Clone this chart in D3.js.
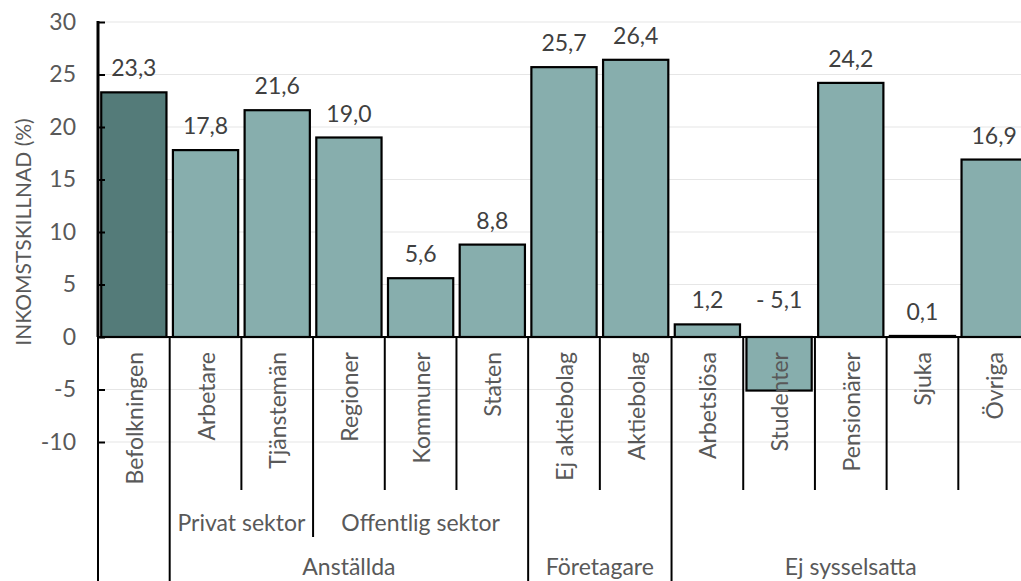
<!DOCTYPE html>
<html>
<head>
<meta charset="utf-8">
<script src="https://cdn.jsdelivr.net/npm/d3@7.9.0/dist/d3.min.js"></script>
<style>
  body { margin: 0; background: #fff; }
  svg { font-family: Lato, "Open Sans", sans-serif; }
</style>
</head>
<body>
<svg width="1021" height="581"></svg>
<script>
// data
const categories = ['Befolkningen', 'Arbetare', 'Tjänstemän', 'Regioner', 'Kommuner', 'Staten',
  'Ej aktiebolag', 'Aktiebolag', 'Arbetslösa', 'Studenter', 'Pensionärer', 'Sjuka', 'Övriga'];
const values = [23.3, 17.8, 21.6, 19.0, 5.6, 8.8, 25.7, 26.4, 1.2, -5.1, 24.2, 0.1, 16.9];
const valueLabels = ['23,3', '17,8', '21,6', '19,0', '5,6', '8,8', '25,7', '26,4', '1,2', '- 5,1', '24,2', '0,1', '16,9'];
const yTicks = [-10, -5, 0, 5, 10, 15, 20, 25, 30];
// sub groups (index of first and last category)
const subGroups = [
  { label: 'Privat sektor', from: 1, to: 2 },
  { label: 'Offentlig sektor', from: 3, to: 5 }
];
const mainGroups = [
  { label: 'Anställda', from: 1, to: 5 },
  { label: 'Företagare', from: 6, to: 7 },
  { label: 'Ej sysselsatta', from: 8, to: 12 }
];

const svg = d3.select('svg');
const left = 98, right = 1030;
const pad = 0.09;
const fs = 23;

let x = d3.scaleBand().domain(categories).range([left, right])
  .paddingInner(pad).paddingOuter(pad / 2);
let y = d3.scaleLinear().domain([-10, 30]).range([442, 22]);
const step = x.step();
const edge = i => left + i * step;

// gridlines
svg.append('g').selectAll('line').data(yTicks).join('line')
  .attr('x1', left).attr('x2', right)
  .attr('y1', d => y(d)).attr('y2', d => y(d))
  .attr('stroke', '#e6e6e6').attr('stroke-width', 1.2);

// bars
svg.append('g').selectAll('rect').data(values).join('rect')
  .attr('x', (d, i) => x(categories[i]))
  .attr('width', x.bandwidth())
  .attr('y', d => y(Math.max(0, d)))
  .attr('height', d => Math.abs(y(d) - y(0)))
  .attr('fill', (d, i) => i === 0 ? '#547b79' : '#87aead')
  .attr('stroke', '#000').attr('stroke-width', 2.2);

// value labels
svg.append('g').selectAll('text').data(values).join('text')
  .attr('x', (d, i) => x(categories[i]) + x.bandwidth() / 2)
  .attr('y', (d, i) => d < 0 ? y(1.2) - 16 : y(d) - 16)
  .attr('text-anchor', 'middle')
  .attr('font-size', fs).attr('fill', '#404040')
  .text((d, i) => valueLabels[i]);

// y axis
let yAxis = d3.axisLeft(y).tickValues(yTicks).tickSize(-7).tickPadding(22).tickFormat(d => d);
let ga = svg.append('g').attr('transform', `translate(${left},0)`).call(yAxis);
ga.select('.domain').remove();
ga.selectAll('.tick line').attr('stroke', '#000').attr('stroke-width', 2);
ga.selectAll('.tick text').attr('font-size', fs).attr('fill', '#595959')
  .attr('font-family', 'Lato, sans-serif');
svg.append('line').attr('x1', left).attr('x2', left).attr('y1', y(30) - 1).attr('y2', y(0))
  .attr('stroke', '#000').attr('stroke-width', 3);

// y title
svg.append('text')
  .attr('transform', `translate(22,${(y(30) + y(-10)) / 2}) rotate(-90)`)
  .attr('text-anchor', 'middle').attr('dominant-baseline', 'central')
  .attr('font-size', 21).attr('fill', '#595959')
  .text('INKOMSTSKILLNAD (%)');

// category axis: zero line
svg.append('line').attr('x1', left).attr('x2', right).attr('y1', y(0)).attr('y2', y(0))
  .attr('stroke', '#000').attr('stroke-width', 2);

// separator lines
const mainEdges = new Set([0, 1]);
mainGroups.forEach(g => { mainEdges.add(g.from); mainEdges.add(g.to + 1); });
const subEdges = new Set();
subGroups.forEach(g => { subEdges.add(g.from); subEdges.add(g.to + 1); });
const edges = d3.range(categories.length + 1);
svg.append('g').selectAll('line').data(edges).join('line')
  .attr('x1', i => edge(i)).attr('x2', i => edge(i))
  .attr('y1', y(0))
  .attr('y2', i => mainEdges.has(i) ? 581 : subEdges.has(i) ? 537 : 490)
  .attr('stroke', '#000').attr('stroke-width', 2);

// category labels
svg.append('g').selectAll('text').data(categories).join('text')
  .attr('transform', d => `translate(${x(d) + x.bandwidth() / 2},${y(0) + 15}) rotate(-90)`)
  .attr('text-anchor', 'end').attr('dominant-baseline', 'central')
  .attr('font-size', fs).attr('fill', '#595959')
  .text(d => d);

// group labels
svg.append('g').selectAll('text').data(subGroups).join('text')
  .attr('x', g => (edge(g.from) + edge(g.to + 1)) / 2).attr('y', 531)
  .attr('text-anchor', 'middle').attr('font-size', fs).attr('fill', '#595959')
  .text(g => g.label);
svg.append('g').selectAll('text').data(mainGroups).join('text')
  .attr('x', g => (edge(g.from) + edge(g.to + 1)) / 2).attr('y', 575)
  .attr('text-anchor', 'middle').attr('font-size', fs).attr('fill', '#595959')
  .text(g => g.label);
</script>
</body>
</html>
